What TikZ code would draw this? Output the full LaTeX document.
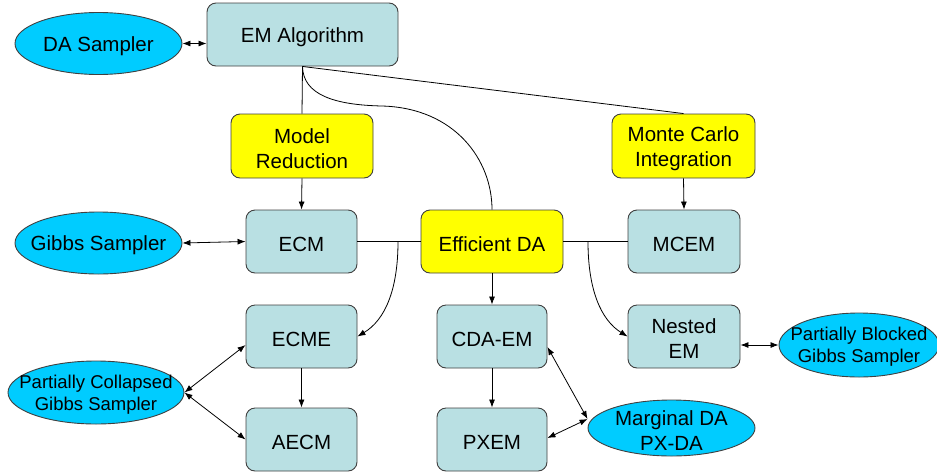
\documentclass[tikz,border=0pt]{standalone}
\usepackage{fontspec}
\setmainfont{Liberation Sans}
\usetikzlibrary{shapes.geometric,arrows.meta}
\definecolor{boxblue}{HTML}{B9E0E3}
\definecolor{boxyellow}{HTML}{FFFF00}
\definecolor{ellcyan}{HTML}{00CCFF}
\definecolor{edge}{HTML}{404040}
\tikzset{
  bluebox/.style={draw=edge, line width=0.9pt, fill=boxblue, rounded corners=9pt, inner sep=0pt},
  yellowbox/.style={draw=edge, line width=0.9pt, fill=boxyellow, rounded corners=9pt, inner sep=0pt},
  ell/.style={ellipse, draw=edge, line width=0.9pt, fill=ellcyan, inner sep=0pt},
  bigtxt/.style={inner sep=0pt, align=center, font=\fontsize{20.5}{25}\selectfont, yshift=-2.5pt},
  smalltxt/.style={inner sep=0pt, align=center, font=\fontsize{18.5}{22}\selectfont, yshift=-2pt},
  conn/.style={draw=black, line width=0.8pt},
  arr/.style={conn, -{Latex[length=8pt,width=6pt]}},
  darr/.style={conn, {Latex[length=8pt,width=6pt]}-{Latex[length=8pt,width=6pt]}}
}
\begin{document}
\begin{tikzpicture}[x=1pt,y=-1pt]
\useasboundingbox (0,0) rectangle (937,472);
% boxes
\node[bluebox, minimum width=191pt, minimum height=63pt] (em) at (302.5,34.5) {};
\node[yellowbox, minimum width=142pt, minimum height=64pt] (mr) at (302,146) {};
\node[yellowbox, minimum width=143pt, minimum height=64pt] (mc) at (683.5,146) {};
\node[bluebox, minimum width=111pt, minimum height=63pt] (ecm) at (301.5,241.5) {};
\node[yellowbox, minimum width=142pt, minimum height=63pt] (eda) at (492,241.5) {};
\node[bluebox, minimum width=112pt, minimum height=63pt] (mcem) at (684,241.5) {};
\node[bluebox, minimum width=111pt, minimum height=63pt] (ecme) at (301.5,336.5) {};
\node[bluebox, minimum width=111pt, minimum height=63pt] (aecm) at (301.5,439.5) {};
\node[bluebox, minimum width=110pt, minimum height=63pt] (cda) at (492,336.5) {};
\node[bluebox, minimum width=110pt, minimum height=63pt] (pxem) at (492,439.5) {};
\node[bluebox, minimum width=112pt, minimum height=63pt] (nem) at (684,336.5) {};
% ellipses
\node[ell, minimum width=167pt, minimum height=62pt] (das) at (98.5,43.5) {};
\node[ell, minimum width=167pt, minimum height=62pt] (gs) at (98.5,243) {};
\node[ell, minimum width=176pt, minimum height=63pt] (pcgs) at (96,392.5) {};
\node[ell, minimum width=160pt, minimum height=64pt] (pbgs) at (859,345) {};
\node[ell, minimum width=167pt, minimum height=56pt] (mda) at (671.5,428) {};
% texts
\node[bigtxt] (t-em) at (em) {EM Algorithm};
\node[bigtxt] (t-mr) at (mr) {Model\\Reduction};
\node[bigtxt] (t-mc) at (mc) {Monte Carlo\\Integration};
\node[bigtxt] (t-ecm) at (ecm) {ECM};
\node[bigtxt] (t-eda) at (eda) {Efficient DA};
\node[bigtxt] (t-mcem) at (mcem) {MCEM};
\node[bigtxt] (t-ecme) at (ecme) {ECME};
\node[bigtxt] (t-aecm) at (aecm) {AECM};
\node[bigtxt] (t-cda) at (cda) {CDA-EM};
\node[bigtxt] (t-pxem) at (pxem) {PXEM};
\node[bigtxt] (t-nem) at (nem) {Nested\\EM};
\node[bigtxt] (t-das) at (das) {DA Sampler};
\node[bigtxt] (t-gs) at (gs) {Gibbs Sampler};
\node[smalltxt] (t-pcgs) at (pcgs) {Partially Collapsed\\Gibbs Sampler};
\node[smalltxt] (t-pbgs) at (pbgs) {Partially Blocked\\Gibbs Sampler};
\node[bigtxt] (t-mda) at (mda) {Marginal DA\\PX-DA};
% connectors
\coordinate (emb) at (em.south);
\draw[conn] (emb) -- (mr.north);
\draw[conn] (emb) -- (mc.north);
\coordinate (mid1) at (382,106);
\draw[conn] (emb) .. controls (303,95) and (335,105) .. (mid1) .. controls (455,108) and (492,160) .. (eda.north);
\draw[arr] (mr.south) -- (ecm.north);
\draw[arr] (mc.south) -- (mcem.north);
\draw[conn] (ecm.east) -- (eda.west);
\draw[conn] (eda.east) -- (mcem.west);
\coordinate (jl) at (398,241.5);
\coordinate (jr) at (588,241.5);
\draw[arr] (jl) .. controls (398,290) and (385,320) .. (ecme.east);
\draw[arr] (jr) .. controls (588,290) and (601,320) .. (nem.west);
\draw[arr] (eda.south) -- (cda.north);
\draw[arr] (cda.south) -- (pxem.north);
\draw[arr] (ecme.south) -- (aecm.north);
\draw[darr] (das.east) -- (em.west |- das.east);
\draw[darr] (gs.east) -- (ecm.west);
\draw[darr] (pcgs.east) -- ([yshift=-8.5pt]ecme.west);
\draw[darr] (pcgs.east) -- (aecm.west);
\draw[darr] ([yshift=-8.5pt]nem.east) -- (pbgs.west);
\draw[darr] ([yshift=-10.5pt]cda.east) -- ([yshift=9pt]mda.west);
\draw[darr] ([yshift=1.5pt]pxem.east) -- ([yshift=9pt]mda.west);
\end{tikzpicture}
\end{document}
